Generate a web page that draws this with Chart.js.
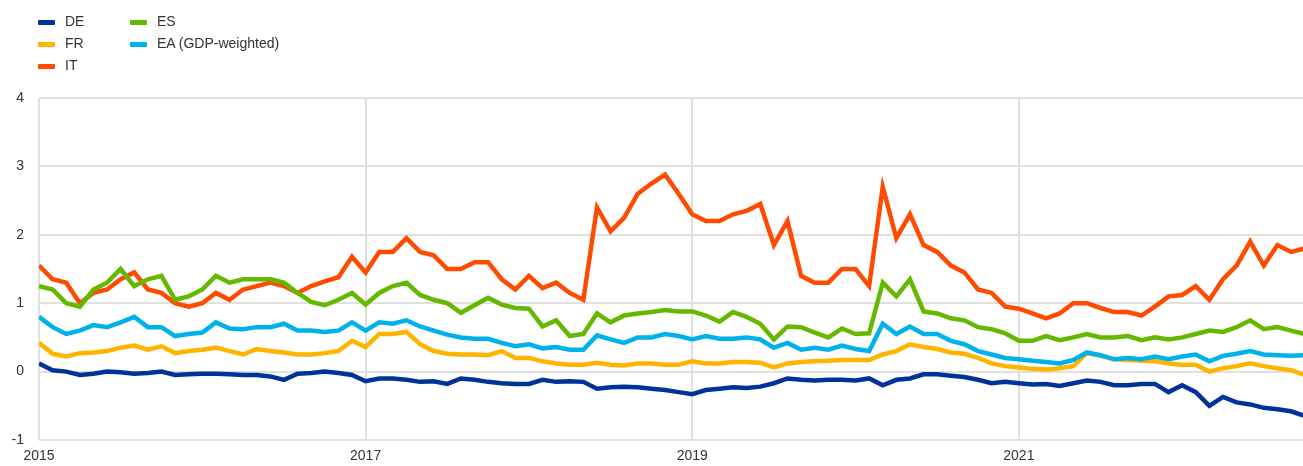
<!DOCTYPE html>
<html>
<head>
<meta charset="utf-8">
<script src="https://cdn.jsdelivr.net/npm/chart.js@4"></script>
<style>
  body { margin: 0; background: #fff; font-family: "Liberation Sans", Arial, sans-serif; }
  #wrap { position: relative; width: 1303px; height: 466px; }
  #legend { position: absolute; left: 0; top: 0; }
  .item { position: absolute; font-size: 14px; color: #333; white-space: nowrap; }
  .swatch { position: absolute; width: 17px; height: 5px; border-radius: 1px; }
</style>
</head>
<body>
<div id="wrap">
  <canvas id="myChart" width="1303" height="466"></canvas>
  <div id="legend"></div>
</div>
<script>
// monthly observations, first point = Jan 2015
const startYear = 2015;
const xTicks = [2015, 2017, 2019, 2021];
const yTicks = [-1, 0, 1, 2, 3, 4];

const seriesNames = ["DE", "FR", "IT", "ES", "EA (GDP-weighted)"];
const seriesColors = ["#003299", "#ffb400", "#ff4b00", "#65b800", "#00b1ea"];

const valuesDE = [
  0.12, 0.02, 0.0, -0.05, -0.03, 0.0, -0.01, -0.03, -0.02, 0.0, -0.05, -0.04,
  -0.03, -0.03, -0.04, -0.05, -0.05, -0.07, -0.12, -0.03, -0.02, 0.0, -0.02, -0.05,
  -0.14, -0.1, -0.1, -0.12, -0.15, -0.14, -0.18, -0.1, -0.12, -0.15, -0.17, -0.18,
  -0.18, -0.12, -0.15, -0.14, -0.15, -0.25, -0.23, -0.22, -0.23, -0.25, -0.27, -0.3,
  -0.33, -0.27, -0.25, -0.23, -0.24, -0.22, -0.17, -0.1, -0.12, -0.13, -0.12, -0.12,
  -0.13, -0.1, -0.2, -0.12, -0.1, -0.04, -0.04, -0.06, -0.08, -0.12, -0.17, -0.15,
  -0.17, -0.19, -0.18, -0.21, -0.17, -0.13, -0.15, -0.2, -0.2, -0.18, -0.18, -0.3,
  -0.2, -0.3, -0.5, -0.37, -0.45, -0.48, -0.53, -0.55, -0.58, -0.65
];
const valuesFR = [
  0.42, 0.26, 0.22, 0.27, 0.28, 0.3, 0.35, 0.38, 0.32, 0.37, 0.27, 0.3,
  0.32, 0.35, 0.3, 0.25, 0.33, 0.3, 0.28, 0.25, 0.25, 0.27, 0.3, 0.45,
  0.36, 0.55, 0.55, 0.58, 0.4, 0.3, 0.26, 0.25, 0.25, 0.24, 0.3, 0.2,
  0.2, 0.15, 0.12, 0.1, 0.1, 0.13, 0.1, 0.09, 0.12, 0.12, 0.1, 0.1,
  0.15, 0.12, 0.12, 0.14, 0.14, 0.13, 0.06, 0.12, 0.14, 0.15, 0.16, 0.17,
  0.17, 0.17, 0.25, 0.3, 0.4, 0.36, 0.33, 0.28, 0.26, 0.2, 0.12, 0.08,
  0.06, 0.04, 0.03, 0.05, 0.08, 0.27, 0.23, 0.18, 0.17, 0.16, 0.15, 0.12,
  0.1, 0.1, 0.0, 0.05, 0.08, 0.12, 0.08, 0.05, 0.02, -0.05
];
const valuesIT = [
  1.55, 1.35, 1.3, 1.0, 1.15, 1.2, 1.35, 1.45, 1.2, 1.15, 1.0, 0.95,
  1.0, 1.15, 1.05, 1.2, 1.25, 1.3, 1.25, 1.15, 1.25, 1.32, 1.38, 1.68,
  1.45, 1.75, 1.75, 1.95, 1.75, 1.7, 1.5, 1.5, 1.6, 1.6, 1.35, 1.2,
  1.4, 1.22, 1.3, 1.15, 1.05, 2.4, 2.05, 2.25, 2.6, 2.75, 2.88, 2.6,
  2.3, 2.2, 2.2, 2.3, 2.35, 2.45, 1.85, 2.2, 1.4, 1.3, 1.3, 1.5,
  1.5, 1.25, 2.7, 1.95, 2.3, 1.85, 1.75, 1.55, 1.45, 1.2, 1.15, 0.95,
  0.92, 0.85, 0.78, 0.85, 1.0, 1.0, 0.93, 0.87, 0.87, 0.82, 0.95, 1.1,
  1.12, 1.25, 1.05, 1.35, 1.55, 1.9, 1.55, 1.85, 1.75, 1.8
];
const valuesES = [
  1.25, 1.2, 1.0, 0.95, 1.2, 1.3, 1.5, 1.25, 1.35, 1.4, 1.05, 1.1,
  1.2, 1.4, 1.3, 1.35, 1.35, 1.35, 1.3, 1.15, 1.02, 0.97, 1.05, 1.15,
  0.98, 1.15, 1.25, 1.3, 1.12, 1.05, 1.0, 0.86, 0.97, 1.08, 0.98, 0.93,
  0.92, 0.66, 0.75, 0.52, 0.55, 0.85, 0.72, 0.82, 0.85, 0.87, 0.9, 0.88,
  0.88, 0.82, 0.73, 0.87, 0.8, 0.7, 0.47, 0.66, 0.65, 0.57, 0.5, 0.63,
  0.55, 0.56, 1.3, 1.1, 1.35, 0.88, 0.85, 0.78, 0.75, 0.65, 0.62, 0.56,
  0.45, 0.45, 0.52, 0.46, 0.5, 0.55, 0.5, 0.5, 0.52, 0.46, 0.5, 0.47,
  0.5, 0.55, 0.6, 0.58, 0.65, 0.75, 0.62, 0.65, 0.6, 0.55
];
const valuesEA = [
  0.8, 0.65, 0.55, 0.6, 0.68, 0.65, 0.72, 0.8, 0.65, 0.65, 0.52, 0.55,
  0.57, 0.72, 0.63, 0.62, 0.65, 0.65, 0.7, 0.6, 0.6, 0.58, 0.6, 0.72,
  0.6, 0.72, 0.7, 0.75, 0.66, 0.6, 0.54, 0.5, 0.48, 0.48, 0.42, 0.37,
  0.4, 0.34, 0.36, 0.32, 0.32, 0.53, 0.47, 0.42, 0.5, 0.5, 0.55, 0.52,
  0.47, 0.52, 0.48, 0.48, 0.5, 0.47, 0.35, 0.42, 0.32, 0.35, 0.32, 0.38,
  0.33, 0.3, 0.7, 0.55, 0.66, 0.55, 0.55, 0.45, 0.4, 0.3, 0.25, 0.2,
  0.18, 0.16, 0.14, 0.12, 0.17, 0.28, 0.24, 0.18, 0.2, 0.18, 0.22, 0.18,
  0.22, 0.25, 0.15, 0.23, 0.26, 0.3, 0.25, 0.24, 0.23, 0.24
];

const allValues = [valuesDE, valuesFR, valuesIT, valuesES, valuesEA];

const toPoints = (vals) => vals.map((v, i) => ({ x: startYear + i / 12, y: v }));

const datasets = allValues.map((vals, k) => ({
  label: seriesNames[k],
  data: toPoints(vals),
  borderColor: seriesColors[k],
  backgroundColor: seriesColors[k],
  borderWidth: 4.5,
  pointRadius: 0,
  tension: 0,
  fill: false,
  order: allValues.length - k, // later series drawn on top
}));

const gridColor = "#e0e0e0";
const tickFont = { family: "'Liberation Sans', Arial, sans-serif", size: 14 };

const ctx = document.getElementById("myChart").getContext("2d");

window.myChart = new Chart(ctx, {
  type: "line",
  data: { datasets: datasets },
  options: {
    responsive: false,
    animation: false,
    layout: { padding: { top: 98, left: 0, right: 0, bottom: 0 } },
    scales: {
      x: {
        type: "linear",
        min: 2015,
        max: 2022.74,
        afterBuildTicks: (scale) => {
          scale.ticks = xTicks.map((v) => ({ value: v }));
        },
        afterFit: (scale) => {
          scale.height = 26;
        },
        ticks: {
          color: "#333",
          font: tickFont,
          padding: 8,
          maxRotation: 0,
          autoSkip: false,
          callback: (v) => String(v),
        },
        grid: { color: gridColor, lineWidth: 2, drawTicks: false },
        border: { display: false },
      },
      y: {
        min: -1,
        max: 4,
        afterBuildTicks: (scale) => {
          scale.ticks = yTicks.map((v) => ({ value: v }));
        },
        afterFit: (scale) => {
          scale.width = 39;
        },
        ticks: {
          color: "#333",
          font: tickFont,
          padding: 15,
        },
        grid: { color: gridColor, lineWidth: 2, drawTicks: false },
        border: { display: false },
      },
    },
    plugins: {
      legend: { display: false },
      tooltip: { enabled: false },
    },
  },
});

// legend in two columns, like the original
const legend = document.getElementById("legend");
seriesNames.forEach((name, i) => {
  const col = i < 3 ? 0 : 1;
  const row = i < 3 ? i : i - 3;
  const sw = document.createElement("div");
  sw.className = "swatch";
  sw.style.background = seriesColors[i];
  sw.style.left = 38 + col * 92 + "px";
  sw.style.top = 20 + row * 22 + "px";
  legend.appendChild(sw);
  const txt = document.createElement("div");
  txt.className = "item";
  txt.textContent = name;
  txt.style.left = 65 + col * 92 + "px";
  txt.style.top = 13 + row * 22 + "px";
  legend.appendChild(txt);
});
</script>
</body>
</html>
